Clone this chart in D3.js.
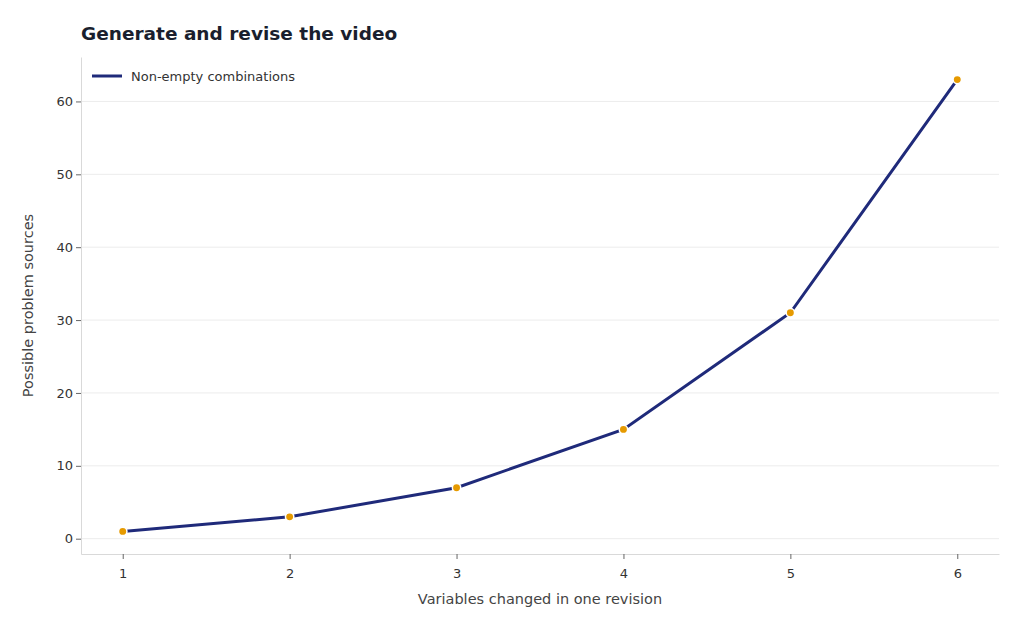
<!DOCTYPE html>
<html><head><meta charset="utf-8">
<script src="https://cdn.jsdelivr.net/npm/d3@7"></script>
<style>body{margin:0;background:#fff;font-family:"DejaVu Sans",sans-serif}</style>
</head><body><div id="chart"></div>
<script>
const variables = [1, 2, 3, 4, 5, 6];
const combinations = [1, 3, 7, 15, 31, 63];
const yTicks = [0, 10, 20, 30, 40, 50, 60];
const seriesName = "Non-empty combinations";

const W = 1024, H = 631;
const margin = { top: 57, right: 25, bottom: 77, left: 81 };
const width = W - margin.left - margin.right, height = H - margin.top - margin.bottom;

const root = d3.select("#chart").append("svg").attr("width", W).attr("height", H);
const svg = root.append("g").attr("transform", `translate(${margin.left},${margin.top})`);

const x = d3.scaleLinear().domain([0.75, 6.25]).range([0, width]);
const y = d3.scaleLinear().domain([-2.1, 66.1]).range([height, 0]);

// grid
svg.append("g").selectAll("line").data(yTicks).enter().append("line")
  .attr("x1", 0).attr("x2", width).attr("y1", d => y(d)).attr("y2", d => y(d))
  .attr("stroke", "#ececec").attr("stroke-width", 1);

// axes
const ax = svg.append("g").attr("transform", `translate(0,${height})`)
  .call(d3.axisBottom(x).tickValues(variables).tickFormat(d3.format("d")).tickSize(5).tickSizeOuter(0));
const ay = svg.append("g").call(d3.axisLeft(y).tickValues(yTicks).tickSize(5).tickSizeOuter(0));
[ax, ay].forEach(a => {
  a.select(".domain").attr("stroke", "#d9d9d9");
  a.selectAll(".tick line").attr("stroke", "#666");
  a.selectAll("text").attr("fill", "#333").style("font-size", "13px").style("font-family", "DejaVu Sans");
});
ax.selectAll("text").attr("dy", "1.2em");

// axis labels
svg.append("text").attr("x", width / 2).attr("y", height + 50).attr("text-anchor", "middle")
  .attr("fill", "#444").style("font-size", "14.5px").text("Variables changed in one revision");
svg.append("text").attr("transform", "rotate(-90)").attr("x", -height / 2).attr("y", -48)
  .attr("text-anchor", "middle").attr("fill", "#444").style("font-size", "14.5px").text("Possible problem sources");

// title
root.append("text").attr("x", 81).attr("y", 40).attr("fill", "#1a1f2e")
  .style("font-size", "18.5px").style("font-weight", "bold").text("Generate and revise the video");

// line
const data = variables.map((v, i) => ({ v, c: combinations[i] }));
svg.append("path").datum(data).attr("fill", "none").attr("stroke", "#1f2a7a").attr("stroke-width", 3)
  .attr("d", d3.line().x(d => x(d.v)).y(d => y(d.c)));
svg.selectAll("circle").data(data).enter().append("circle")
  .attr("cx", d => x(d.v)).attr("cy", d => y(d.c)).attr("r", 4.2)
  .attr("fill", "#e69a00").attr("stroke", "#fff").attr("stroke-width", 1.5);

// legend
const lg = svg.append("g").attr("transform", "translate(11,19)");
lg.append("line").attr("x1", 0).attr("x2", 30).attr("stroke", "#1f2a7a").attr("stroke-width", 3);
lg.append("text").attr("x", 39).attr("y", 5).attr("fill", "#333").style("font-size", "13px").text(seriesName);
</script></body></html>
